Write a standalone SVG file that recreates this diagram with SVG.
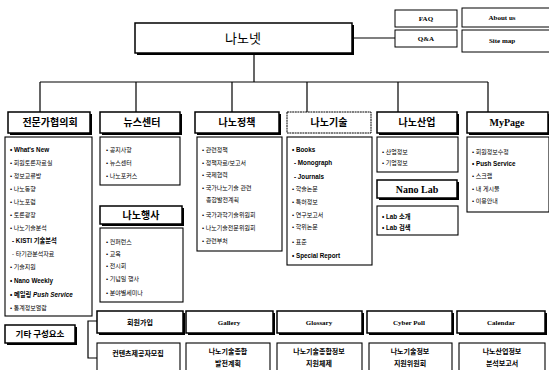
<svg xmlns="http://www.w3.org/2000/svg" width="549" height="370" viewBox="0 0 549 370">
<style>
.bg{fill:#fff}
.hd{fill:#fff;stroke:#000;stroke-width:1.5}
.sh{fill:#000}
.lb{fill:#fff;stroke:#000;stroke-width:1.1}
.sm{fill:#fff;stroke:#000;stroke-width:1}
.ln{fill:none;stroke:#000;stroke-width:1.2}
.kh{font-family:"Noto Sans CJK KR","Noto Sans",sans-serif;font-weight:bold;font-size:10px;text-anchor:middle;fill:#000}
.eh{font-family:"Liberation Serif",serif;font-weight:bold;font-size:10px;text-anchor:middle;fill:#000}
.es{font-family:"Liberation Serif",serif;font-weight:bold;font-size:7px;text-anchor:middle;fill:#000}
.it{font-family:"Liberation Sans","Noto Sans CJK KR",sans-serif;font-size:6px;fill:#000}
.ib{font-family:"Liberation Sans","Noto Sans CJK KR",sans-serif;font-weight:bold;font-size:6.3px;fill:#000}
.kb{font-family:"Noto Sans CJK KR","Noto Sans",sans-serif;font-weight:bold;font-size:7px;text-anchor:middle;fill:#000}
</style>
<rect class="bg" x="0" y="0" width="549" height="370"/>

<g id="connectors">
<path class="ln" d="M352,38 H395"/>
<path class="ln" d="M254,53 V82"/>
<path class="ln" d="M40,82 H488"/>
<path class="ln" d="M40,82 V112 M136,82 V112 M232,82 V112 M307,82 V112 M398,82 V112 M488,82 V112"/>
<path class="ln" d="M97,321 H88 V358 H97"/>
</g>

<g id="nanonet">
<rect class="sh" x="137" y="25" width="217" height="30"/>
<rect class="hd" x="135" y="23" width="217" height="30"/>
<text x="243" y="43" style="font-family:'Noto Sans CJK KR',sans-serif;font-size:13px;text-anchor:middle">나노넷</text>
</g>

<g id="faq"><rect class="sm" x="395" y="10" width="62" height="17"/><text class="es" x="426" y="21">FAQ</text></g>
<g id="qna"><rect class="sm" x="395" y="30" width="62" height="17"/><text class="es" x="426" y="41">Q&amp;A</text></g>
<g id="about"><rect class="sm" x="462" y="8" width="90" height="19"/><text class="es" x="502" y="20">About us</text></g>
<g id="sitemap"><rect class="sm" x="462" y="30" width="90" height="22"/><text class="es" x="502" y="43">Site map</text></g>

<g id="h-expert">
<rect class="sh" x="10" y="114" width="82" height="21"/>
<rect class="hd" x="8" y="112" width="82" height="21"/>
<text class="kh" x="50" y="126">전문가협의회</text>
</g>
<g id="h-news">
<rect class="sh" x="102" y="114" width="80" height="21"/>
<rect class="hd" x="100" y="112" width="80" height="21"/>
<text class="kh" x="142" y="126">뉴스센터</text>
</g>
<g id="h-policy">
<rect class="sh" x="197" y="114" width="84" height="21"/>
<rect class="hd" x="195" y="112" width="84" height="21"/>
<text class="kh" x="237" y="126">나노정책</text>
</g>
<g id="h-tech">
<rect class="sm" x="287" y="112" width="84" height="21" style="stroke-dasharray:2 0.6"/>
<text class="kh" x="329" y="126">나노기술</text>
</g>
<g id="h-industry">
<rect class="sh" x="379" y="114" width="80" height="21"/>
<rect class="hd" x="377" y="112" width="80" height="21"/>
<text class="kh" x="417" y="126">나노산업</text>
</g>
<g id="h-mypage">
<rect class="sh" x="469" y="114" width="82" height="21"/>
<rect class="hd" x="467" y="112" width="81" height="21"/>
<text class="eh" x="507" y="126">MyPage</text>
</g>

<g id="l-expert">
<rect class="lb" x="5" y="137" width="87" height="179"/>
<text class="ib" x="10" y="152">• What's New</text>
<text class="it" x="10" y="165">• 회원토론자료실</text>
<text class="it" x="10" y="178">• 정보교류방</text>
<text class="it" x="10" y="191">• 나노동향</text>
<text class="it" x="10" y="204">• 나노포럼</text>
<text class="it" x="10" y="217">• 토론광장</text>
<text class="it" x="10" y="230">• 나노기술분석</text>
<text class="ib" x="12" y="243">- KISTI 기술분석</text>
<text class="it" x="12" y="256">- 타기관분석자료</text>
<text class="it" x="10" y="269">• 기술지원</text>
<text class="ib" x="10" y="283">• Nano Weekly</text>
<text class="ib" x="10" y="297">• 메일링 <tspan font-style="italic">Push Service</tspan></text>
<text class="it" x="10" y="310">• 통계정보열람</text>
</g>

<g id="l-news">
<rect class="lb" x="100" y="137" width="80" height="48"/>
<text class="it" x="106" y="152">• 공지사항</text>
<text class="it" x="106" y="165">• 뉴스센터</text>
<text class="it" x="106" y="178">• 나노포커스</text>
</g>

<g id="h-event">
<rect class="sh" x="102" y="208" width="82" height="18"/>
<rect class="hd" x="100" y="206" width="82" height="18"/>
<text class="kh" x="141" y="219">나노행사</text>
</g>
<g id="l-event">
<rect class="lb" x="100" y="228" width="83" height="74"/>
<text class="it" x="106" y="244">• 컨퍼런스</text>
<text class="it" x="106" y="256">• 교육</text>
<text class="it" x="106" y="268">• 전시회</text>
<text class="it" x="106" y="281">• 기념일 행사</text>
<text class="it" x="106" y="295">• 분야별세미나</text>
</g>

<g id="l-policy">
<rect class="lb" x="197" y="137" width="85" height="114"/>
<text class="it" x="202" y="152">• 관련정책</text>
<text class="it" x="202" y="165">• 정책자료/보고서</text>
<text class="it" x="202" y="177">• 국제협력</text>
<text class="it" x="202" y="190">• 국가나노기술 관련</text>
<text class="it" x="206" y="202">종합발전계획</text>
<text class="it" x="202" y="217">• 국가과학기술위원회</text>
<text class="it" x="202" y="230">• 나노기술전문위원회</text>
<text class="it" x="202" y="243">• 관련부처</text>
</g>

<g id="l-tech">
<rect class="lb" x="287" y="137" width="85" height="128"/>
<text class="ib" x="292" y="152">• Books</text>
<text class="ib" x="294" y="165">- Monograph</text>
<text class="ib" x="294" y="179">- Journals</text>
<text class="it" x="292" y="191">• 학술논문</text>
<text class="it" x="292" y="204">• 특허정보</text>
<text class="it" x="292" y="217">• 연구보고서</text>
<text class="it" x="292" y="229">• 학위논문</text>
<text class="it" x="292" y="244">• 표준</text>
<text class="ib" x="292" y="258">• Special Report</text>
</g>

<g id="l-industry">
<rect class="lb" x="377" y="137" width="81" height="35"/>
<text class="it" x="382" y="154">• 산업정보</text>
<text class="it" x="382" y="165">• 기업정보</text>
</g>

<g id="h-nanolab">
<rect class="sh" x="379" y="182" width="80" height="18"/>
<rect class="hd" x="377" y="180" width="80" height="18"/>
<text class="eh" x="417" y="193">Nano Lab</text>
</g>
<g id="l-nanolab">
<rect class="lb" x="377" y="206" width="81" height="29"/>
<text class="ib" x="382" y="219">• Lab 소개</text>
<text class="ib" x="382" y="230">• Lab 검색</text>
</g>

<g id="l-mypage">
<rect class="lb" x="467" y="137" width="82" height="75"/>
<text class="it" x="472" y="154">• 회원정보수정</text>
<text class="ib" x="472" y="166">• Push Service</text>
<text class="it" x="472" y="178">• 스크랩</text>
<text class="it" x="472" y="191">• 내 게시물</text>
<text class="it" x="472" y="203">• 이용안내</text>
</g>

<g id="etc">
<rect class="sh" x="7" y="327" width="70" height="18"/>
<rect class="hd" x="5" y="325" width="70" height="18"/>
<text class="kh" x="40" y="337" style="font-size:8.5px">기타 구성요소</text>
</g>

<g id="b-join"><rect class="sh" x="99" y="313" width="86" height="22"/><rect class="hd" x="97" y="311" width="86" height="22"/><text class="kb" x="140" y="325">회원가입</text></g>
<g id="b-gallery"><rect class="sh" x="188" y="313" width="87" height="22"/><rect class="hd" x="186" y="311" width="87" height="22"/><text class="es" x="229" y="325">Gallery</text></g>
<g id="b-glossary"><rect class="sh" x="279" y="313" width="85" height="22"/><rect class="hd" x="277" y="311" width="85" height="22"/><text class="es" x="319" y="325">Glossary</text></g>
<g id="b-poll"><rect class="sh" x="369" y="313" width="85" height="22"/><rect class="hd" x="367" y="311" width="85" height="22"/><text class="es" x="409" y="325">Cyber Poll</text></g>
<g id="b-calendar"><rect class="sh" x="459" y="313" width="88" height="22"/><rect class="hd" x="457" y="311" width="88" height="22"/><text class="es" x="501" y="325">Calendar</text></g>

<g id="c-provider"><rect class="lb" x="97" y="343" width="83" height="30"/><text class="kb" x="138" y="356">컨텐츠제공자모집</text></g>
<g id="c-plan"><rect class="lb" x="186" y="343" width="84" height="30"/><text class="kb" x="228" y="354">나노기술종합</text><text class="kb" x="228" y="366">발전계획</text></g>
<g id="c-info"><rect class="lb" x="277" y="343" width="85" height="30"/><text class="kb" x="319" y="354">나노기술종합정보</text><text class="kb" x="319" y="366">지원체제</text></g>
<g id="c-committee"><rect class="lb" x="369" y="343" width="83" height="30"/><text class="kb" x="410" y="354">나노기술정보</text><text class="kb" x="410" y="366">지원위원회</text></g>
<g id="c-report"><rect class="lb" x="459" y="343" width="86" height="30"/><text class="kb" x="502" y="354">나노산업정보</text><text class="kb" x="502" y="366">분석보고서</text></g>
</svg>
